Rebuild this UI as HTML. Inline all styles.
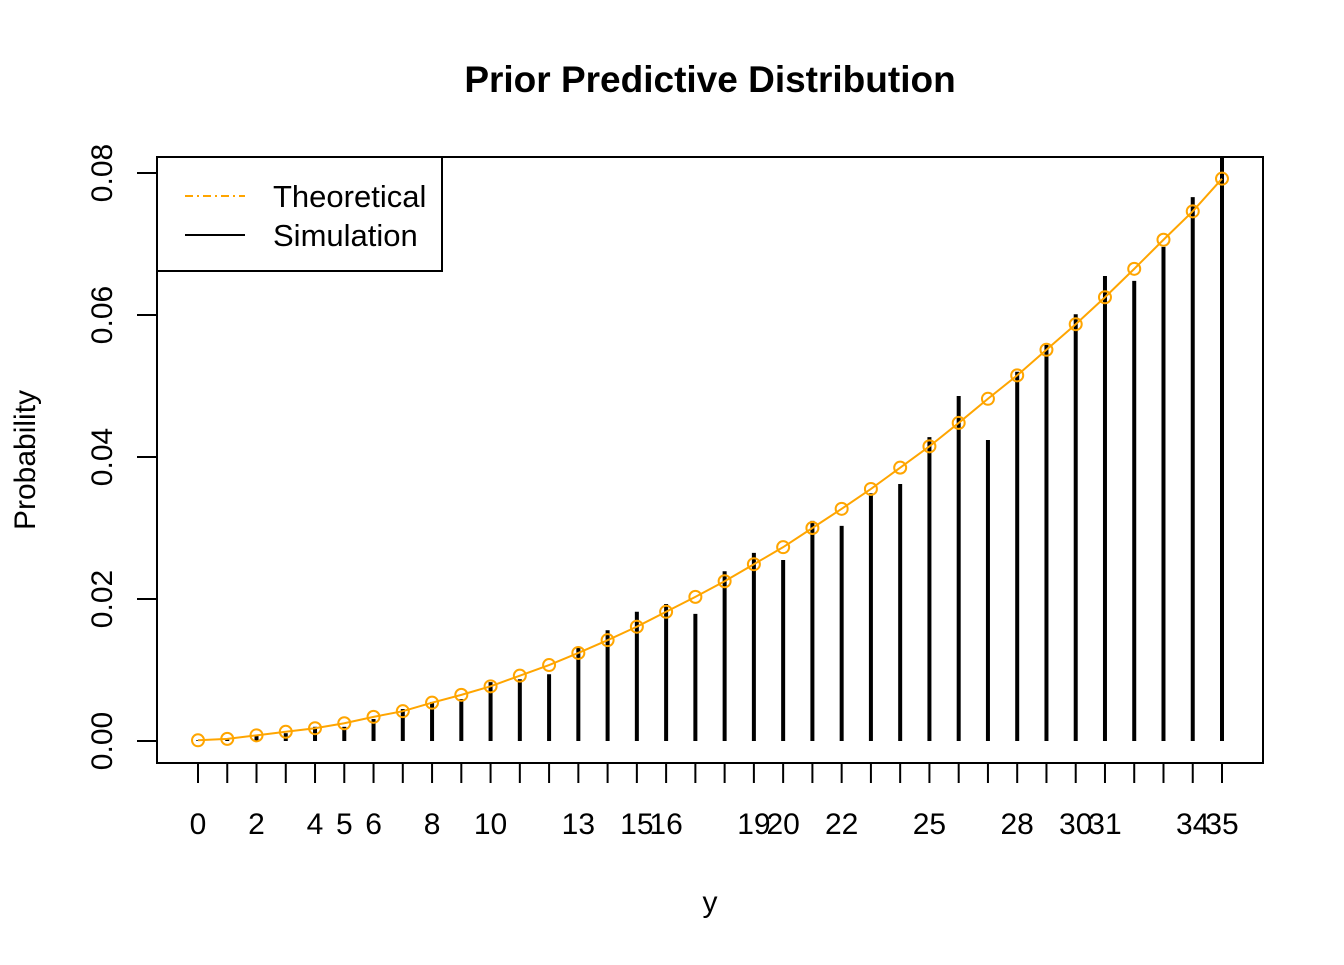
<!DOCTYPE html>
<html><head><meta charset="utf-8"><style>
body{margin:0;background:#fff}
text{font-family:"Liberation Sans",Arial,sans-serif}
</style></head><body>
<svg id="chart" width="1344" height="960" xmlns="http://www.w3.org/2000/svg">
<rect width="1344" height="960" fill="#fff"/>
<text x="710" y="92" font-size="37" font-weight="bold" text-anchor="middle">Prior Predictive Distribution</text>
<text x="710" y="912" font-size="30" text-anchor="middle">y</text>
<text transform="translate(35,460) rotate(-90)" font-size="30" text-anchor="middle">Probability</text>
<defs><clipPath id="pc"><rect x="157" y="157" width="1106" height="606"/></clipPath></defs>
<g id="bars" clip-path="url(#pc)"></g>
<g id="theo"></g>
<g id="axes"></g>
<rect x="157" y="157" width="1106" height="606" fill="none" stroke="#000" stroke-width="2"/>
<g>
<rect x="157" y="157" width="285" height="114" fill="#fff" stroke="#000" stroke-width="2"/>
<line x1="185" y1="196" x2="245" y2="196" stroke="orange" stroke-width="2" stroke-dasharray="8,4,2,4"/>
<text x="273" y="207" font-size="31">Theoretical</text>
<line x1="185" y1="235" x2="245" y2="235" stroke="#000" stroke-width="2"/>
<text x="273" y="246" font-size="31">Simulation</text>
</g>
</svg>
<script>
const ys = [];for(let i=0;i<=35;i++)ys.push(i);
const theoretical=[0.0001,0.0003,0.0008,0.0013,0.0018,0.0025,0.0034,0.0042,0.0054,0.0065,0.0077,0.0092,0.0107,0.0124,0.0142,0.0161,0.0182,0.0203,0.0225,0.0249,0.0273,0.0300,0.0327,0.0355,0.0385,0.0415,0.0448,0.0482,0.0515,0.0551,0.0587,0.0625,0.0665,0.0706,0.0746,0.0792];
const simulation=[0.0001,0.0002,0.0008,0.0011,0.0020,0.0020,0.0031,0.0045,0.0055,0.0059,0.0083,0.0087,0.0094,0.0131,0.0156,0.0182,0.0193,0.0179,0.0239,0.0265,0.0255,0.0310,0.0303,0.0349,0.0362,0.0428,0.0486,0.0424,0.0520,0.0558,0.0601,0.0655,0.0648,0.0696,0.0766,0.0825];
const xLabels=[0,2,4,5,6,8,10,13,15,16,19,20,22,25,28,30,31,34,35];
const yTicks=[0,0.02,0.04,0.06,0.08];
const yTickLabels=["0.00","0.02","0.04","0.06","0.08"];
const NS="http://www.w3.org/2000/svg";
const X=v=>198+v*(1024/35), Y=v=>741-v*7100;
function mk(t,a,p){const e=document.createElementNS(NS,t);for(const k in a)e.setAttribute(k,a[k]);p.appendChild(e);return e;}
const bars=document.getElementById('bars'),theo=document.getElementById('theo'),axes=document.getElementById('axes');
ys.forEach((v,i)=>{const b=mk('line',{x1:X(v),x2:X(v),y1:Y(0),y2:Y(simulation[i]),stroke:'#000','stroke-width':4},bars);

});
const pl=mk('polyline',{points:ys.map((v,i)=>X(v)+','+Y(theoretical[i])).join(' '),fill:'none',stroke:'orange','stroke-width':2},theo);


ys.forEach((v,i)=>{const c=mk('circle',{cx:X(v),cy:Y(theoretical[i]),r:6,fill:'none',stroke:'orange','stroke-width':2},theo);

});
ys.forEach(v=>{const t=mk('line',{x1:X(v),x2:X(v),y1:763,y2:783,stroke:'#000','stroke-width':2},axes);

});
xLabels.forEach(v=>{const t=mk('text',{x:X(v),y:834,'font-size':30,'text-anchor':'middle'},axes);t.textContent=v;

});
yTicks.forEach((v,i)=>{const t=mk('line',{x1:137,x2:157,y1:Y(v),y2:Y(v),stroke:'#000','stroke-width':2},axes);


const l=mk('text',{transform:`translate(112,${Y(v)}) rotate(-90)`,'font-size':30,'text-anchor':'middle'},axes);l.textContent=yTickLabels[i];

});
</script>
</body></html>
